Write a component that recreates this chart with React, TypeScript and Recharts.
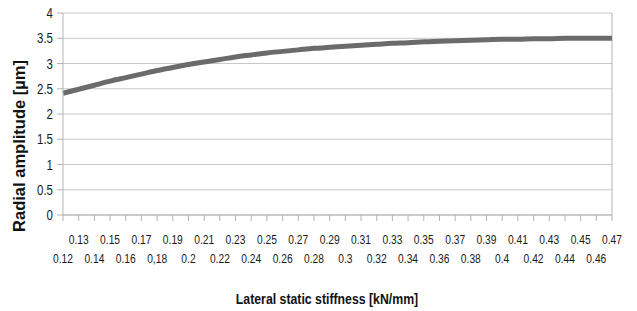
import { LineChart, Line, XAxis, YAxis, CartesianGrid, ReferenceLine, Label } from 'recharts'

// x categories as printed under the axis (the original has "0,18")
const stiffness = [
  '0.12', '0.13', '0.14', '0.15', '0.16', '0.17', '0,18', '0.19', '0.2', '0.21',
  '0.22', '0.23', '0.24', '0.25', '0.26', '0.27', '0.28', '0.29', '0.3', '0.31',
  '0.32', '0.33', '0.34', '0.35', '0.36', '0.37', '0.38', '0.39', '0.4', '0.41',
  '0.42', '0.43', '0.44', '0.45', '0.46', '0.47',
]

const amplitude = [
  2.41, 2.49, 2.57, 2.65, 2.72, 2.79, 2.86, 2.92, 2.98, 3.03,
  3.08, 3.13, 3.17, 3.21, 3.24, 3.27, 3.30, 3.32, 3.34, 3.36,
  3.38, 3.40, 3.41, 3.43, 3.44, 3.45, 3.46, 3.47, 3.48, 3.48,
  3.49, 3.49, 3.50, 3.50, 3.50, 3.50,
]

const yTicks = [0, 0.5, 1, 1.5, 2, 2.5, 3, 3.5, 4]

const chartData = stiffness.map((s, i) => ({ s, a: amplitude[i] }))

const sans = '"Liberation Sans", Arial, sans-serif'

// labels alternate between two rows like the original spreadsheet chart
// no narrow font installed, so squeeze the text horizontally
function XTick(props: any) {
  const { x, y, payload, index } = props
  const lower = index % 2 === 0
  return (
    <text
      transform={`translate(${x},${y + (lower ? 39.5 : 20.5)}) scale(0.82,1)`}
      textAnchor="middle"
      fontSize={12.5}
      fontFamily={sans}
      fill="#1a1a1a"
    >
      {payload.value}
    </text>
  )
}

function YTick(props: any) {
  const { x, y, payload } = props
  return (
    <text
      transform={`translate(${x},${y + 5}) scale(0.82,1)`}
      textAnchor="end"
      fontSize={14}
      fontFamily={sans}
      fill="#1a1a1a"
    >
      {payload.value}
    </text>
  )
}

export default function App() {
  return (
    <div style={{ position: 'absolute', left: 0, top: 0, width: 637, height: 311, background: '#fff' }}>
      <LineChart width={637} height={311} data={chartData} margin={{ top: 13, right: 25, bottom: 0, left: 0 }}>
        <CartesianGrid vertical={false} stroke="#c8c8c8" />
        <XAxis
          dataKey="s"
          interval={0}
          height={96}
          tick={<XTick />}
          tickSize={6}
          axisLine={{ stroke: '#b4b4b4' }}
          tickLine={{ stroke: '#b4b4b4' }}
        >
          <Label
            content={() => (
              <text
                transform="translate(327,304) scale(0.82,1)"
                textAnchor="middle"
                fontSize={15}
                fontWeight="bold"
                fontFamily={sans}
                fill="#111"
              >
                Lateral static stiffness [kN/mm]
              </text>
            )}
          />
        </XAxis>
        <YAxis
          width={63}
          domain={[0, 4]}
          ticks={yTicks}
          interval={0}
          tickSize={6}
          tickMargin={4}
          tick={<YTick />}
          axisLine={{ stroke: '#b4b4b4' }}
          tickLine={{ stroke: '#b4b4b4' }}
        >
          <Label
            content={() => (
              <text
                transform="translate(25,146) rotate(-90)"
                textAnchor="middle"
                fontSize={16.5}
                fontWeight="bold"
                fontFamily={sans}
                fill="#111"
              >
                Radial amplitude [µm]
              </text>
            )}
          />
        </YAxis>
        <ReferenceLine x="0.47" stroke="#b4b4b4" />
        <Line
          type="monotone"
          dataKey="a"
          stroke="#6b6b6b"
          strokeWidth={5}
          dot={false}
          isAnimationActive={false}
        />
      </LineChart>
    </div>
  )
}
